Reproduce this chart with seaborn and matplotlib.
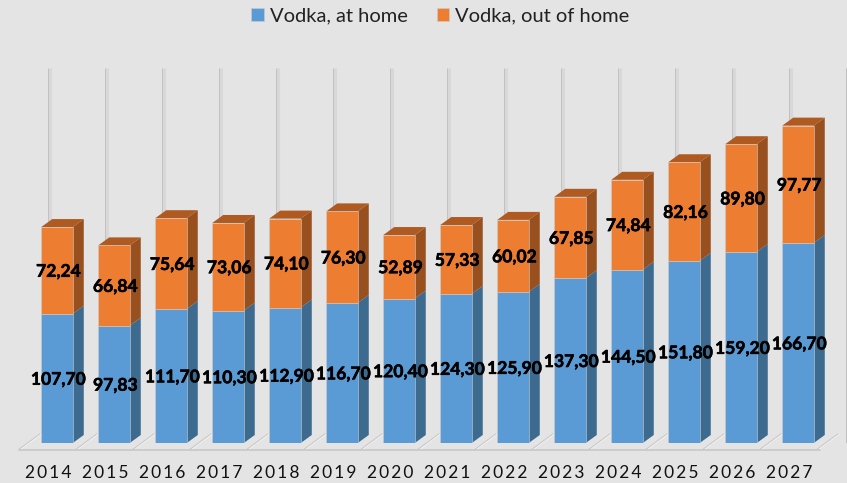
import matplotlib
matplotlib.use('Agg')
import matplotlib.pyplot as plt
import matplotlib.patheffects as pe
import numpy as np
import seaborn as sns
from matplotlib.patches import Polygon

years = ['2014', '2015', '2016', '2017', '2018', '2019', '2020',
         '2021', '2022', '2023', '2024', '2025', '2026', '2027']
at_home = [107.70, 97.83, 111.70, 110.30, 112.90, 116.70, 120.40,
           124.30, 125.90, 137.30, 144.50, 151.80, 159.20, 166.70]
out_of_home = [72.24, 66.84, 75.64, 73.06, 74.10, 76.30, 52.89,
               57.33, 60.02, 67.85, 74.84, 82.16, 89.80, 97.77]

W, H = 847, 483
PX_Y = 1.2          # pixels per unit
PX_X = 57.0         # pixels per category
BASE = 443          # pixel row of value 0
bg = '#e4e4e4'

sns.set_style('white')
plt.rcParams['font.family'] = ['Lato', 'DejaVu Sans']

fig = plt.figure(figsize=(W / 100, H / 100), dpi=100, facecolor=bg)
ax = fig.add_axes([0, (H - BASE) / H, 1, BASE / H], facecolor=bg)

sns.barplot(x=years, y=at_home, color='#5b9bd5', saturation=1, width=0.553,
            label='Vodka, at home', edgecolor='#cccccc', linewidth=0.4, zorder=3, ax=ax)
sns.barplot(x=years, y=out_of_home, bottom=at_home, color='#ed7d31', saturation=1, width=0.553,
            label='Vodka, out of home', edgecolor='#cccccc', linewidth=0.4, zorder=3, ax=ax)

ax.set_xlim(-1, (W - PX_X) / PX_X)
ax.set_ylim(0, BASE / PX_Y)

# fake 3d depth of the bars
dx = 11 / PX_X
dy = 8 / PX_Y
n = len(years)
home_bars = ax.containers[0]
out_bars = ax.containers[1]
for bars, side, top in [(home_bars, '#3d6a8f', None), (out_bars, '#98501f', '#ae5a21')]:
    for p in bars:
        x0, y0, w, h = p.get_x(), p.get_y(), p.get_width(), p.get_height()
        ax.add_patch(Polygon([(x0 + w, y0), (x0 + w + dx, y0 + dy), (x0 + w + dx, y0 + h + dy), (x0 + w, y0 + h)],
                             facecolor=side, edgecolor='none', zorder=2.5))
        if top:
            ax.add_patch(Polygon([(x0, y0 + h), (x0 + dx, y0 + h + dy), (x0 + w + dx, y0 + h + dy), (x0 + w, y0 + h)],
                                 facecolor=top, edgecolor='none', zorder=2.5))

# back wall poles
pole_x = np.arange(n + 1) - 9 / PX_X
pole_top = (BASE - 68) / PX_Y
ax.vlines(pole_x + 1.5 / PX_X, 0, pole_top, color='#d8d8d8', linewidth=2.2, zorder=1)
ax.vlines(pole_x, 0, pole_top, color='#c0c0c0', linewidth=0.7, zorder=1)

# floor
floor_front = -6.5 / PX_Y
floor_back = 9 / PX_Y
floor_x = np.arange(n + 1) - 38 / PX_X
for fx in floor_x:
    ax.plot([fx, fx + 21 / PX_X], [floor_front, floor_back], color='#c8c8c8', lw=1.0, zorder=1, clip_on=False)
    ax.plot([fx + 1.5 / PX_X, fx + 22.5 / PX_X], [floor_front, floor_back], color='#f1f1f1', lw=0.7, zorder=1, clip_on=False)
ax.plot([floor_x[0], floor_x[-1] + 3 / PX_X], [floor_front, floor_front], color='#c8c8c8', lw=1.2, zorder=1, clip_on=False)

for bars, vals in [(home_bars, at_home), (out_bars, out_of_home)]:
    texts = ax.bar_label(bars, labels=[f'{v:.2f}'.replace('.', ',') for v in vals], label_type='center',
                         fontsize=12.6, fontweight='bold', color='black', zorder=5)
    for t in texts:
        t.xyann = (1.0, -1.0)
        t.set_zorder(5)
        t.set_path_effects([pe.withStroke(linewidth=0.4, foreground='black')])

ax.set_xticks(np.arange(n) - 9 / PX_X, labels=['\u2009'.join(y) for y in years])
ax.tick_params(axis='x', length=0, pad=16, labelsize=12.5, labelcolor='#111111')
ax.set_yticks([])
ax.set_xlabel('')
sns.despine(ax=ax, left=True, bottom=True, right=True, top=True)

ax.legend(loc='center', bbox_to_anchor=(440.5 / W, 1 - 16 / H), bbox_transform=fig.transFigure, ncol=2,
          frameon=False, fontsize=14.5, handlelength=0.62, handleheight=0.62, handletextpad=0.3,
          columnspacing=1.45, labelcolor='#222222')

fig.savefig('out.png', dpi=100, facecolor=bg)
